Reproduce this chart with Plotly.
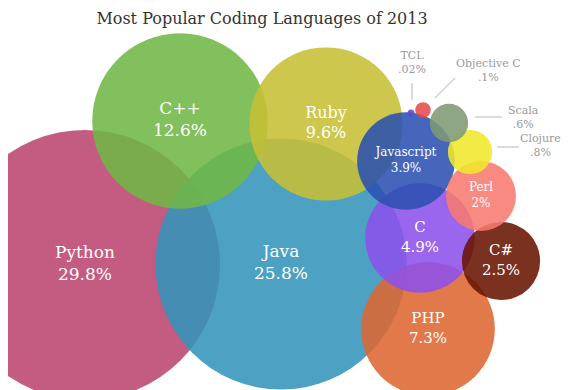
import plotly.graph_objects as go

# ---- data ----
languages = ["Python", "Java", "C++", "Ruby", "PHP", "C", "Javascript", "C#", "Perl",
             "Clojure", "Scala", "Objective C", "TCL"]
share = [29.8, 25.8, 12.6, 9.6, 7.3, 4.9, 3.9, 2.5, 2.0, 0.8, 0.6, 0.1, 0.02]
share_text = ["29.8%", "25.8%", "12.6%", "9.6%", "7.3%", "4.9%", "3.9%", "2.5%", "2%",
              ".8%", ".6%", ".1%", ".02%"]
# bubble layout positions (packed-bubble coordinates)
bubble_x = [85, 281, 180, 326, 428, 420, 406, 501, 481, 470, 449, 423, 411]
bubble_y = [125, 126, 269, 266, 61, 152, 229, 129, 194, 238, 267, 280, 277]

colors_seen = ["#C45C80", "#4CA1C1", "#80C05C", "#CEC74E", "#E2784B", "#9A66EE",
               "#4466BB", "#7B3014", "#F98A82", "#F2EA44", "#8FA684", "#E86060", "#7060D0"]
label_sizes = [17, 17, 17, 16, 15, 15, 12, 15, 12, 0, 0, 0, 0]

W, H = 570, 390
PAD = 8  # default page body margin
OPA = 0.88


def base_color(hx, a=OPA):
    r, g, b = (int(hx[i:i + 2], 16) for i in (1, 3, 5))
    f = lambda c: max(0, min(255, round((c - (1 - a) * 255) / a)))
    return f"rgb({f(r)},{f(g)},{f(b)})"


n_in = 9  # bubbles labelled inside
inner_text = [f"{languages[i]}<br>{share_text[i]}" for i in range(n_in)]

max_radius_px = 135
sizeref = 2 * max(share) / (2 * max_radius_px) ** 2

fig = go.Figure()
fig.add_trace(go.Scatter(
    x=bubble_x, y=bubble_y,
    mode="markers",
    marker=dict(size=share, sizemode="area", sizeref=sizeref,
                color=[base_color(c) for c in colors_seen], opacity=OPA,
                line=dict(width=0)),
    hoverinfo="text", text=[f"{l}: {s}" for l, s in zip(languages, share_text)],
    showlegend=False,
))
fig.add_trace(go.Scatter(
    x=bubble_x[:n_in], y=bubble_y[:n_in],
    mode="text", text=inner_text,
    textfont=dict(family="DejaVu Serif", color="white", size=label_sizes[:n_in]),
    hoverinfo="skip", showlegend=False,
))

# outside labels for the small bubbles
outside = {
    "TCL": (412, 328),
    "Objective C": (488, 320),
    "Scala": (523, 273),
    "Clojure": (540, 245),
}
for name, (ax_, ay_) in outside.items():
    i = languages.index(name)
    fig.add_annotation(x=ax_, y=ay_, text=f"{name}<br>{share_text[i]}", showarrow=False,
                       font=dict(family="DejaVu Serif", size=11, color="#9a9a9a"))

leaders = [((412, 307), (412, 290)), ((455, 312), (435, 292)),
           ((475, 273), (502, 273)), ((497, 243), (519, 243))]
for (x0, y0), (x1, y1) in leaders:
    fig.add_shape(type="line", x0=x0, y0=y0, x1=x1, y1=y1,
                  line=dict(color="#cfcfcf", width=1.5))

fig.update_layout(
    width=W - PAD, height=H - PAD,
    margin=dict(l=0, r=0, t=0, b=0),
    paper_bgcolor="white", plot_bgcolor="white",
    xaxis=dict(range=[PAD, W], visible=False, fixedrange=True),
    yaxis=dict(range=[0, H - PAD], visible=False, fixedrange=True),
    title=dict(text="Most Popular Coding Languages of 2013",
               x=(262 - PAD) / (W - PAD), xanchor="center",
               y=1 - (18 - PAD) / (H - PAD), yanchor="middle",
               font=dict(family="DejaVu Serif", size=16, color="#333333")),
)

fig.write_html("out.html")
